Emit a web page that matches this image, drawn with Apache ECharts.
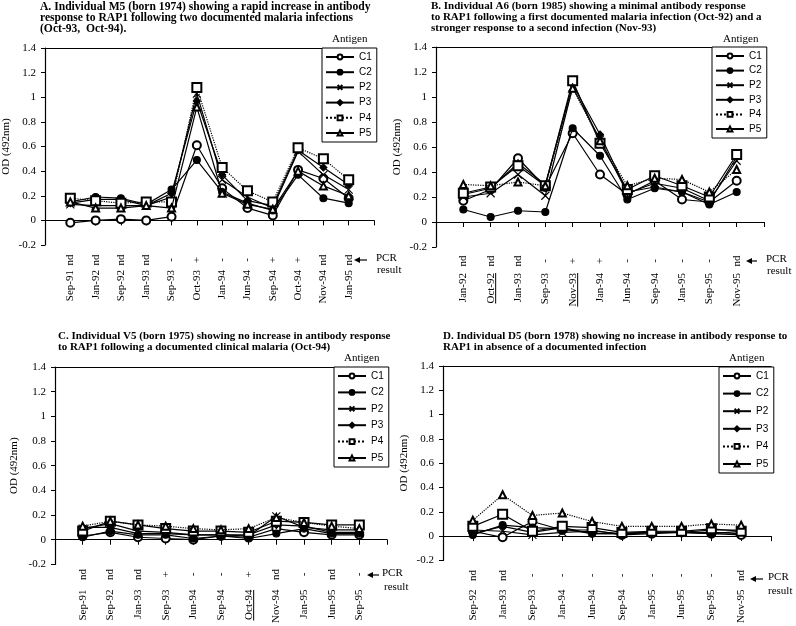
<!DOCTYPE html>
<html><head><meta charset="utf-8">
<script src="https://cdn.jsdelivr.net/npm/echarts@6/dist/echarts.min.js"></script>
<style>html,body{margin:0;padding:0;background:#fff}#c{width:796px;height:626px}</style>
</head><body><div id="c"></div>
<script>
// ---------- DATA ----------
const catsA = ['Sep-91','Jan-92','Sep-92','Jan-93','Sep-93','Oct-93','Jan-94','Jun-94','Sep-94','Oct-94','Nov-94','Jan-95'];
const pcrA  = ['nd','nd','nd','nd','-','+','-','-','+','+','nd','nd'];
const aC1 = [-0.02,0.00,0.01,0.00,0.03,0.61,0.26,0.10,0.04,0.41,0.34,0.18];
const aC2 = [0.15,0.19,0.18,0.13,0.25,0.49,0.23,0.14,0.08,0.37,0.18,0.14];
const aP2 = [0.13,0.12,0.12,0.12,0.19,1.03,0.33,0.19,0.10,0.56,0.37,0.25];
const aP3 = [0.14,0.17,0.17,0.12,0.22,0.97,0.37,0.16,0.12,0.57,0.43,0.29];
const aP4 = [0.18,0.16,0.14,0.15,0.15,1.08,0.43,0.24,0.15,0.59,0.50,0.33];
const aP5 = [0.15,0.10,0.10,0.12,0.10,0.92,0.22,0.13,0.09,0.40,0.28,0.20];

const catsB = ['Jan-92','Oct-92','Jan-93','Sep-93','Nov-93','Jan-94','Jun-94','Sep-94','Jan-95','Sep-95','Nov-95'];
const pcrB  = ['nd','nd','nd','-','+','+','-','-','-','-','nd'];
const bC1 = [0.17,0.26,0.51,0.28,0.71,0.38,0.22,0.33,0.18,0.16,0.33];
const bC2 = [0.10,0.04,0.09,0.08,0.75,0.53,0.18,0.27,0.24,0.14,0.24];
const bP2 = [0.20,0.23,0.38,0.21,1.08,0.66,0.23,0.31,0.27,0.17,0.49];
const bP3 = [0.22,0.27,0.47,0.30,1.10,0.70,0.24,0.28,0.24,0.16,0.52];
const bP4 = [0.23,0.28,0.45,0.29,1.13,0.63,0.26,0.37,0.29,0.20,0.54];
const bP5 = [0.30,0.29,0.32,0.29,1.07,0.65,0.29,0.35,0.34,0.24,0.42];

const catsC = ['Sep-91','Sep-92','Jan-93','Sep-93','Jun-94','Sep-94','Oct-94','Nov-94','Jan-95','Jun-95','Sep-95'];
const pcrC  = ['nd','nd','nd','+','-','-','+','nd','-','nd','-'];
const cC1 = [0.03,0.06,0.02,0.01,0.00,0.03,0.02,0.09,0.06,0.04,0.04];
const cC2 = [0.02,0.07,0.04,0.04,0.01,0.03,0.01,0.05,0.09,0.05,0.05];
const cP2 = [0.09,0.13,0.07,0.06,0.04,0.04,0.03,0.19,0.10,0.08,0.08];
const cP3 = [0.10,0.10,0.05,0.05,0.04,0.04,0.04,0.12,0.11,0.06,0.06];
const cP4 = [0.07,0.15,0.12,0.09,0.07,0.07,0.06,0.15,0.14,0.12,0.12];
const cP5 = [0.11,0.15,0.12,0.11,0.09,0.08,0.09,0.18,0.14,0.11,0.09];

const catsD = ['Sep-92','Jan-93','Sep-93','Jan-94','Jun-94','Sep-94','Jan-95','Jun-95','Sep-95','Nov-95'];
const pcrD  = ['nd','nd','-','-','-','-','-','-','-','nd'];
const dC1 = [0.04,-0.01,0.12,0.05,0.05,0.01,0.02,0.03,0.02,0.01];
const dC2 = [0.01,0.09,0.07,0.06,0.02,0.02,0.03,0.03,0.02,0.04];
const dP2 = [0.05,0.04,0.01,0.03,0.04,0.02,0.03,0.03,0.03,0.02];
const dP3 = [0.02,0.08,0.03,0.07,0.02,0.02,0.03,0.03,0.05,0.05];
const dP4 = [0.08,0.18,0.04,0.08,0.07,0.03,0.04,0.04,0.06,0.04];
const dP5 = [0.13,0.34,0.17,0.19,0.12,0.08,0.08,0.08,0.10,0.09];

const antigenNames = ['C1','C2','P2','P3','P4','P5'];
const yTicks = {min:-0.2, max:1.4, interval:0.2};

const titleA = ['A. Individual M5 (born 1974) showing a rapid increase in antibody','response to RAP1 following two documented malaria infections','(Oct-93,  Oct-94).'];
const titleB = ['B. Individual A6 (born 1985) showing a minimal antibody response','to RAP1 following a first documented malaria infection (Oct-92) and a','stronger response to a second infection (Nov-93)'];
const titleC = ['C. Individual V5 (born 1975) showing no increase in antibody response','to RAP1 following a documented clinical malaria (Oct-94)'];
const titleD = ['D. Individual D5 (born 1978) showing no increase in antibody response to','RAP1 in absence of a documented infection'];

// ---------- LAYOUT ----------
const SERIF = '"Liberation Serif", "Times New Roman", serif';
const SANS = '"Liberation Sans", Arial, sans-serif';
const panels = [
  {cats:catsA, pcr:pcrA, vals:[aC1,aC2,aP2,aP3,aP4,aP5], dotted:'P4', underline:[], title:titleA, tf:11.6,
   grid:{left:43,top:48,width:331,height:197}, leg:{left:322,top:48,gap:5.2}, ant:[348,41], tx:40, ty:[7,18,29],
   arrow:[354,367,260], pcrT:[376,260], resT:[377,271], pcrM:15, dateM:25, yName:33},
  {cats:catsB, pcr:pcrB, vals:[bC1,bC2,bP2,bP3,bP4,bP5], dotted:'P5', underline:['Oct-92','Nov-93'], title:titleB, tf:11,
   grid:{left:436,top:47,width:328,height:200}, leg:{left:712,top:47,gap:4.6}, ant:[739,41], tx:431, ty:[7,18,29],
   arrow:[746,757,261], pcrT:[766,261], resT:[767,272], pcrM:14, dateM:26, yName:33},
  {cats:catsC, pcr:pcrC, vals:[cC1,cC2,cP2,cP3,cP4,cP5], dotted:'P5', underline:['Oct-94'], title:titleC, tf:11,
   grid:{left:55,top:367,width:332,height:198}, leg:{left:334,top:367,gap:6.4}, ant:[360,360], tx:58, ty:[337,348],
   arrow:[367,379,575], pcrT:[382,575], resT:[384,588], pcrM:10, dateM:25, yName:35},
  {cats:catsD, pcr:pcrD, vals:[dC1,dC2,dP2,dP3,dP4,dP5], dotted:'P5', underline:[], title:titleD, tf:11,
   grid:{left:443,top:366,width:328,height:198}, leg:{left:719,top:367,gap:7.6}, ant:[745,360], tx:443, ty:[337,348],
   arrow:[750,763,579], pcrT:[768,579], resT:[768,592], pcrM:15, dateM:29, yName:33}
];

const symbols = {
  C1:{symbol:'emptyCircle', size:8},
  C2:{symbol:'circle', size:7},
  P2:{symbol:'path://M0,0L10,10M10,0L0,10', size:8},
  P3:{symbol:'diamond', size:7},
  P4:{symbol:'emptyRect', size:9},
  P5:{symbol:'emptyTriangle', size:7}
};

const option = {animation:false, backgroundColor:'#fff', grid:[], xAxis:[], yAxis:[], series:[], legend:[], graphic:[]};

panels.forEach((p, gi) => {
  const n = p.cats.length;
  option.grid.push(Object.assign({containLabel:false}, p.grid));
  const baseX = {type:'value', gridIndex:gi, min:0, max:n+1, interval:1, splitLine:{show:false}};
  option.xAxis.push(Object.assign({}, baseX, {
    position:'bottom',
    axisLine:{lineStyle:{color:'#000', width:1.2}},
    axisTick:{show:true, length:5, lineStyle:{color:'#000'}},
    axisLabel:{rotate:90, margin:p.dateM, color:'#000', fontFamily:SERIF, fontSize:11,
      formatter:(v)=> p.cats[v-1] || ''}
  }));
  const dateAxisIndex = option.xAxis.length-1;
  option.xAxis.push(Object.assign({}, baseX, {
    position:'bottom',
    axisLine:{show:false}, axisTick:{show:false},
    axisLabel:{rotate:90, margin:p.pcrM, align:'center', color:'#000', fontFamily:SERIF, fontSize:11,
      formatter:(v)=> p.pcr[v-1] || ''}
  }));
  option.xAxis.push(Object.assign({}, baseX, {
    position:'top', axisLine:{lineStyle:{color:'#000', width:1.2}}, axisTick:{show:false}, axisLabel:{show:false}
  }));
  option.yAxis.push({type:'value', gridIndex:gi, min:yTicks.min, max:yTicks.max, interval:yTicks.interval,
    splitLine:{show:false},
    axisLine:{show:true, lineStyle:{color:'#000', width:1.2}},
    axisTick:{show:true, length:4, lineStyle:{color:'#000'}},
    axisLabel:{color:'#000', fontFamily:SERIF, fontSize:11, margin:9},
    name:'OD (492nm)', nameLocation:'middle', nameGap:p.yName, nameRotate:90,
    nameTextStyle:{color:'#000', fontFamily:SERIF, fontSize:11}
  });
  antigenNames.forEach((nm, si) => {
    const s = symbols[nm];
    option.series.push({
      type:'line', name:nm, xAxisIndex:dateAxisIndex, yAxisIndex:gi,
      data:p.vals[si].map((v,i)=>[i+1, v]),
      symbol:s.symbol, symbolSize:s.size, showAllSymbol:true,
      lineStyle:{color:'#000', width:1.2, type: nm===p.dotted ? 'dotted' : 'solid'},
      itemStyle:{color:'#000', borderColor:'#000', borderWidth:1.1},
      emphasis:{disabled:true}, z: 2+si
    });
  });
  option.legend.push({
    orient:'vertical', left:p.leg.left, top:p.leg.top, itemGap:p.leg.gap, itemWidth:28, itemHeight:6,
    padding:[4,5,4,3], borderColor:'#000', borderWidth:1, backgroundColor:'#fff',
    data:antigenNames, selectedMode:false,
    textStyle:{color:'#000', fontFamily:SANS, fontSize:10, lineHeight:10}
  });
  option.graphic.push({type:'text', left:p.ant[0]-16, top:p.ant[1]-7, style:{text:'Antigen', font:'11px '+SERIF, fill:'#000'}});
  p.title.forEach((t, li) => {
    option.graphic.push({type:'text', left:p.tx, top:p.ty[li]-6, style:{text:t, font:'bold '+p.tf+'px '+SERIF, fill:'#000'}});
  });
  const [xh, xt, ya] = p.arrow;
  option.graphic.push({type:'line', shape:{x1:xh+4, y1:ya, x2:xt, y2:ya}, style:{stroke:'#000', lineWidth:1.2}});
  option.graphic.push({type:'polygon', shape:{points:[[xh,ya],[xh+6,ya-3],[xh+6,ya+3]]}, style:{fill:'#000'}});
  option.graphic.push({type:'text', left:p.pcrT[0], top:p.pcrT[1]-7, style:{text:'PCR', font:'11px '+SERIF, fill:'#000'}});
  option.graphic.push({type:'text', left:p.resT[0], top:p.resT[1]-6, style:{text:'result', font:'11px '+SERIF, fill:'#000'}});
});

const chart = echarts.init(document.getElementById('c'), null, {renderer:'canvas'});
chart.setOption(option);

const ctx = document.createElement('canvas').getContext('2d');
ctx.font = '11px ' + SERIF;
const extra = [];
panels.forEach((p, gi) => {
  p.underline.forEach(cat => {
    const idx = p.cats.indexOf(cat) + 1;
    const px = chart.convertToPixel({xAxisIndex: gi*3}, idx);
    const y0 = p.grid.top + p.grid.height + p.dateM;
    const w = ctx.measureText(cat).width;
    extra.push({type:'line', shape:{x1:px+5, y1:y0, x2:px+5, y2:y0+w}, style:{stroke:'#000', lineWidth:1}});
  });
});
chart.setOption({graphic: option.graphic.concat(extra)});
</script></body></html>
